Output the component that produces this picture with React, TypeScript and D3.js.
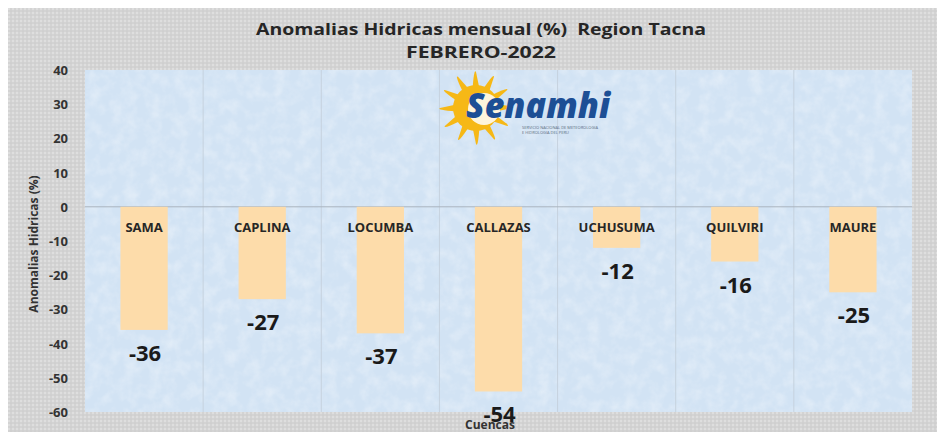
import React from "react";
import * as d3 from "d3";

const categories = ["SAMA", "CAPLINA", "LOCUMBA", "CALLAZAS", "UCHUSUMA", "QUILVIRI", "MAURE"];
const values = [-36, -27, -37, -54, -12, -16, -25];
const yTicks = [40, 30, 20, 10, 0, -10, -20, -30, -40, -50, -60];
const titleLines = ["Anomalias Hidricas mensual (%)  Region Tacna", "FEBRERO-2022"];
const yTitle = "Anomalias Hidricas (%)";
const xTitle = "Cuencas";

const W = 945, H = 435;
const plot = { left: 85, right: 912, top: 70, bottom: 412 };
const FONT = "'Open Sans', 'DejaVu Sans', sans-serif";

export default function App() {
  const x = d3.scaleBand<string>().domain(categories).range([plot.left, plot.right]).paddingInner(0).paddingOuter(0);
  const y = d3.scaleLinear().domain([-60, 40]).range([plot.bottom, plot.top]);
  const barW = x.bandwidth() * 0.4;
  const rays = d3.range(12);
  const sunCx = 476, sunCy = 108;
  return (
    <svg width={W} height={H} style={{ position: "absolute", left: 0, top: 0, display: "block" }}>
      <defs>
        <pattern id="dots" width="4" height="4" patternUnits="userSpaceOnUse">
          <rect width="4" height="4" fill="#d3d3d3" />
          <circle cx="1" cy="1" r="0.8" fill="#ececec" />
          <circle cx="3" cy="3" r="0.6" fill="#c4c4c4" />
        </pattern>
        <filter id="tex" x="0" y="0" width="100%" height="100%">
          <feTurbulence type="fractalNoise" baseFrequency="0.08" numOctaves="3" seed="4" result="n" />
          <feColorMatrix in="n" type="matrix" values="0 0 0 0 1  0 0 0 0 1  0 0 0 0 1  0 0 0 0.9 -0.35" />
        </filter>
      </defs>
      <rect x={0} y={0} width={W} height={H} fill="#ffffff" />
      <rect x={8} y={8} width={929} height={424} fill="url(#dots)" />
      <rect x={plot.left} y={plot.top} width={plot.right - plot.left} height={plot.bottom - plot.top} fill="#d2e3f4" />
      <rect x={plot.left} y={plot.top} width={plot.right - plot.left} height={plot.bottom - plot.top} filter="url(#tex)" opacity={0.7} />
      {categories.slice(1).map((c) => (
        <line key={c} x1={x(c)!} x2={x(c)!} y1={plot.top} y2={plot.bottom} stroke="#c6d2de" strokeWidth={1} />
      ))}
      {/* logo */}
      <g>
        {rays.map((i) => {
          const a = (i / 12) * Math.PI * 2;
          const a1 = a - 0.17, a2 = a + 0.17;
          const r0 = 20, r1 = 36;
          const p = [
            [sunCx + r0 * Math.cos(a1), sunCy + r0 * Math.sin(a1)],
            [sunCx + r1 * Math.cos(a), sunCy + r1 * Math.sin(a)],
            [sunCx + r0 * Math.cos(a2), sunCy + r0 * Math.sin(a2)],
          ];
          return <path key={i} d={`M${p[0]}Q${sunCx + (r1 + 4) * Math.cos(a - 0.05)},${sunCy + (r1 + 4) * Math.sin(a - 0.05)} ${p[1]}L${p[2]}Z`} fill="#f6b816" />;
        })}
        <circle cx={sunCx} cy={sunCy} r={23} fill="#f6b816" />
        <circle cx={sunCx + 8} cy={sunCy + 1} r={16} fill="#ffffff" opacity={0.85} />
        <text x={466} y={118} fontFamily={FONT} fontSize={35} fontWeight={800} fontStyle="italic" fill="#1d4f95" textLength={144} lengthAdjust="spacingAndGlyphs">Senamhi</text>
        <text x={522} y={129} fontFamily={FONT} fontSize={4} fill="#5a6b80">SERVICIO NACIONAL DE METEOROLOGIA</text>
        <text x={522} y={134} fontFamily={FONT} fontSize={4} fill="#5a6b80">E HIDROLOGIA DEL PERU</text>
      </g>
      <line x1={plot.left} x2={plot.right} y1={y(0)} y2={y(0)} stroke="#aab4bf" strokeWidth={1} />
      {categories.map((c, i) => (
        <rect key={c} x={x(c)! + (x.bandwidth() - barW) / 2} y={y(0)} width={barW} height={y(values[i]) - y(0)} fill="#fddcaa" />
      ))}
      {categories.map((c) => (
        <text key={c} x={x(c)! + x.bandwidth() / 2} y={y(0) + 25} textAnchor="middle" fontFamily={FONT} fontSize={13} fontWeight={700} fill="#262626">{c}</text>
      ))}
      {categories.map((c, i) => (
        <text key={c} x={x(c)! + x.bandwidth() / 2 + 1} y={y(values[i]) + 31} textAnchor="middle" fontFamily={FONT} fontSize={22} fontWeight={700} fill="#1a1a1a">{values[i]}</text>
      ))}
      {yTicks.map((t) => (
        <text key={t} x={68} y={y(t) + 5} textAnchor="end" fontFamily={FONT} fontSize={13} fontWeight={700} fill="#333">{t}</text>
      ))}
      <text transform={`translate(38,${(plot.top + plot.bottom) / 2 + 3}) rotate(-90)`} textAnchor="middle" fontFamily={FONT} fontSize={12} fontWeight={700} fill="#333">{yTitle}</text>
      <text x={490} y={429} textAnchor="middle" fontFamily={FONT} fontSize={12} fontWeight={700} fill="#333">{xTitle}</text>
      <text x={481} y={35} textAnchor="middle" fontFamily={FONT} fontSize={16} fontWeight={700} fill="#262626" textLength={450} lengthAdjust="spacingAndGlyphs" style={{ whiteSpace: "pre" }}>{titleLines[0]}</text>
      <text x={481} y={58} textAnchor="middle" fontFamily={FONT} fontSize={16} fontWeight={700} fill="#262626" textLength={150} lengthAdjust="spacingAndGlyphs">{titleLines[1]}</text>
    </svg>
  );
}
